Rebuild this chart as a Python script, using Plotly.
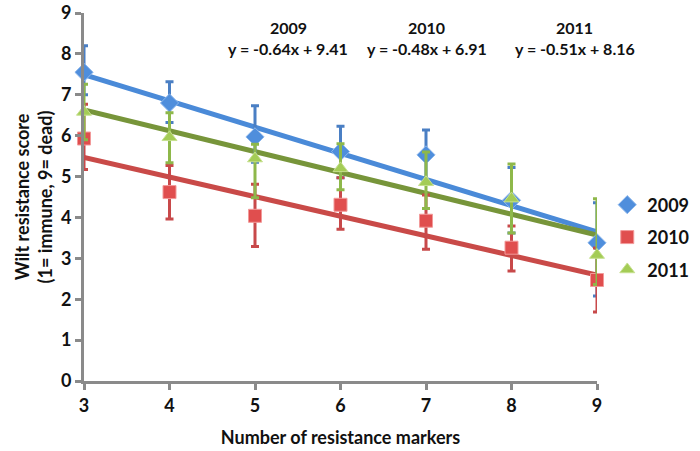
import plotly.graph_objects as go

markers = [3, 4, 5, 6, 7, 8, 9]

score_2009 = [7.55, 6.80, 5.97, 5.61, 5.53, 4.42, 3.38]
err_2009_plus = [0.65, 0.52, 0.76, 0.62, 0.61, 0.80, 0.98]
err_2009_minus = [0.55, 0.48, 0.62, 0.64, 0.70, 0.80, 1.30]

score_2010 = [5.93, 4.62, 4.04, 4.31, 3.92, 3.26, 2.47]
err_2010_plus = [0.84, 0.65, 0.77, 0.66, 0.63, 0.53, 0.78]
err_2010_minus = [0.76, 0.66, 0.75, 0.60, 0.70, 0.57, 0.78]

score_2011 = [6.58, 5.96, 5.44, 5.20, 4.86, 4.46, 3.08]
err_2011_plus = [0.68, 0.60, 0.35, 0.60, 0.74, 0.85, 1.38]
err_2011_minus = [0.68, 0.62, 0.96, 0.52, 0.64, 0.84, 0.72]

trend_slope = {"2009": -0.64, "2010": -0.48, "2011": -0.51}
trend_icept = {"2009": 9.41, "2010": 6.91, "2011": 8.16}

y_ticks = [0, 1, 2, 3, 4, 5, 6, 7, 8, 9]

FONT = "Lato"
AXIS_GRAY = "#8a8a8a"

series = [
    ("2009", score_2009, err_2009_plus, err_2009_minus, "diamond", "#4F8EDC", "#8DB7EC", "#4A7FC4", "#4A8AD8", 14),
    ("2010", score_2010, err_2010_plus, err_2010_minus, "square", "#E04E4E", "#F29A9A", "#C8494A", "#C94A48", 13),
    ("2011", score_2011, err_2011_plus, err_2011_minus, "triangle-up", "#A4CC56", "#C6E08F", "#8EB84A", "#77953A", 13),
]

fig = go.Figure()

# trend lines first (behind markers)
for name, ys, ep, em, sym, fill, edge, errc, linec, size in series:
    m = trend_slope[name]
    b = trend_icept[name]
    xs = [markers[0], markers[-1]]
    fig.add_trace(go.Scatter(
        x=xs, y=[m * x + b for x in xs], mode="lines",
        line=dict(color=linec, width=5), showlegend=False,
        hoverinfo="skip", cliponaxis=False,
    ))

for name, ys, ep, em, sym, fill, edge, errc, linec, size in series:
    fig.add_trace(go.Scatter(
        x=markers, y=ys, mode="markers", name=name,
        legendgroup=name,
        marker=dict(symbol=sym, size=size, color=fill, line=dict(color=edge, width=1)),
        error_y=dict(type="data", symmetric=False, array=ep, arrayminus=em,
                     color=errc, thickness=3, width=4),
        cliponaxis=False,
    ))

annots = [
    ("2009", "y = -0.64x + 9.41", 5.39),
    ("2010", "y = -0.48x + 6.91", 7.01),
    ("2011", "y = -0.51x + 8.16", 8.74),
]
for yr, eq, xc in annots:
    fig.add_annotation(x=xc, y=8.65, xref="x", yref="y", text=yr, showarrow=False,
                       font=dict(family=FONT, size=16, color="#111", weight="bold"))
    fig.add_annotation(x=xc, y=8.13, xref="x", yref="y", text=eq, showarrow=False,
                       font=dict(family=FONT, size=16, color="#111", weight="bold"))

fig.update_layout(
    width=700, height=451,
    margin=dict(l=84, r=103, t=13, b=70, autoexpand=False),
    paper_bgcolor="white", plot_bgcolor="white",
    font=dict(family=FONT, size=16, color="#111"),
    legend=dict(x=1.02, y=0.39, xanchor="left", yanchor="middle",
                font=dict(family=FONT, size=18, color="#111", weight="bold"),
                tracegroupgap=6, itemwidth=30, bgcolor="rgba(0,0,0,0)"),
    xaxis=dict(
        range=[3, 9], tickmode="array", tickvals=markers, ticktext=[str(v) for v in markers],
        showline=True, linecolor=AXIS_GRAY, linewidth=3, ticks="outside", ticklen=6,
        tickwidth=3, tickcolor=AXIS_GRAY, showgrid=False, zeroline=False, automargin=False,
        tickfont=dict(family=FONT, size=18, color="#111", weight="bold"),
        title=dict(text="Number of resistance markers", standoff=17,
                   font=dict(family=FONT, size=18, color="#111", weight="bold")),
    ),
    yaxis=dict(
        range=[0, 9], tickmode="array", tickvals=y_ticks, ticktext=[str(v) for v in y_ticks],
        showline=True, linecolor=AXIS_GRAY, linewidth=3, ticks="outside", ticklen=6,
        tickwidth=3, tickcolor=AXIS_GRAY, showgrid=False, zeroline=False, automargin=False,
        tickfont=dict(family=FONT, size=18, color="#111", weight="bold"),
        title=dict(text="Wilt resistance score<br>(1= immune, 9= dead)", standoff=4,
                   font=dict(family=FONT, size=18, color="#111", weight="bold")),
    ),
)

# remove the default 8px page margin so the figure fills the window exactly
fig.write_html("out.html", config={"displayModeBar": False},
               post_script="document.body.style.margin='0px';")
